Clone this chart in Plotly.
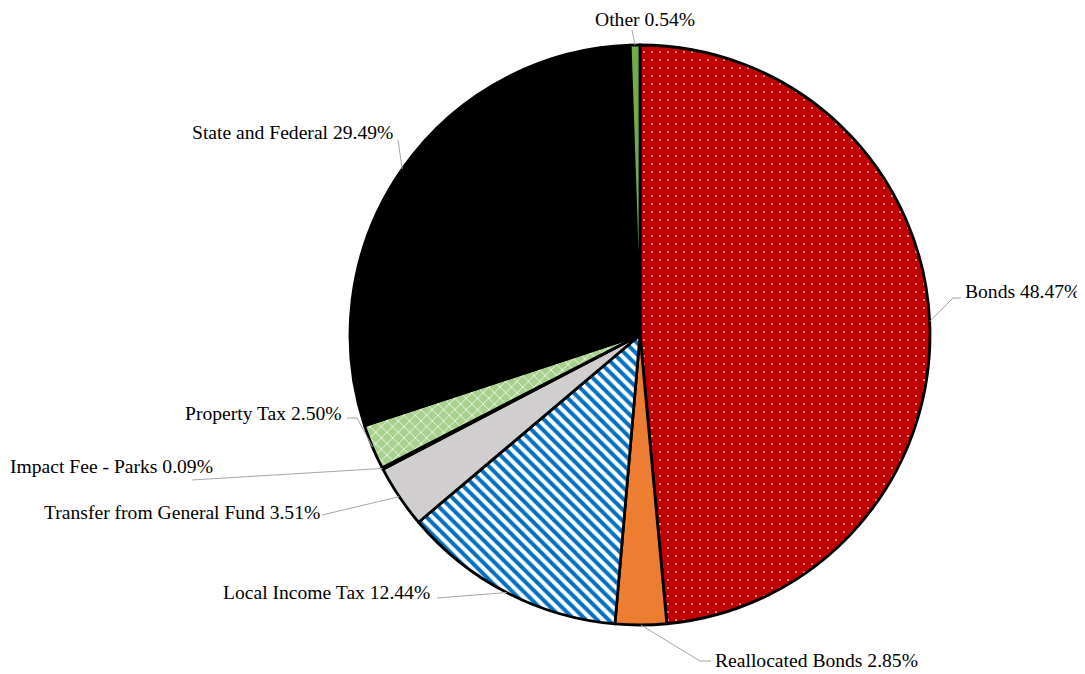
import math
import plotly.graph_objects as go

# ---- data ----
labels = ["Bonds", "Reallocated Bonds", "Local Income Tax", "Transfer from General Fund",
          "Impact Fee - Parks", "Property Tax", "State and Federal", "Other"]
values = [48.47, 2.85, 12.44, 3.51, 0.09, 2.50, 29.49, 0.54]

# ---- styles ----
bg_colors = ["#C00000", "#ED7D31", "#FFFFFF", "#D0CECE", "#FFC000", "#A9D18E", "#000000", "#70AD47"]
fg_colors = ["#FFFFFF", "#ED7D31", "#0070C0", "#D0CECE", "#FFC000", "#FFFFFF", "#000000", "#70AD47"]
shapes_pat = [".", "", "\\", "", "", "x", "", ""]
pat_sizes = [8, 8, 8, 8, 8, 8, 8, 8]
pat_solid = [0.035, 0.3, 0.5, 0.3, 0.3, 0.18, 0.3, 0.3]

# page body has an 8px margin; work in screenshot pixels and shift
OFF = 8
W, H = 1085 - OFF, 674 - OFF
CX, CY, R = 640, 335, 290

# label layout (screenshot pixels): text position, anchor, leader-line path points (before slice edge)
label_layout = [
    dict(x=963, y=292, xa="left", path=[(961, 298), (953, 298)]),
    dict(x=713, y=660, xa="left", path=[(711, 661), (700, 661)]),
    dict(x=432, y=592, xa="right", path=[(437, 598)]),
    dict(x=322, y=512, xa="right", path=[(322, 515)]),
    dict(x=215, y=466, xa="right", path=[(192, 480)]),
    dict(x=344, y=413, xa="right", path=[(347, 418), (357, 418)]),
    dict(x=395, y=133, xa="right", path=[(398, 140)]),
    dict(x=645, y=19, xa="center", path=[(632, 30)]),
]

def px(x):
    return (x - OFF) / W

def py(y):
    return 1 - (y - OFF) / H

fig = go.Figure()
fig.add_trace(go.Pie(
    labels=labels, values=values, sort=False, direction="clockwise", rotation=0,
    textinfo="none", hoverinfo="label+percent", showlegend=False,
    marker=dict(
        colors=bg_colors,
        line=dict(color="#000000", width=2.8),
        pattern=dict(shape=shapes_pat, fgcolor=fg_colors, bgcolor=bg_colors,
                     size=pat_sizes, solidity=pat_solid, fillmode="replace"),
    ),
    domain=dict(x=[px(CX - R), px(CX + R)], y=[py(CY + R), py(CY - R)]),
))

total = sum(values)
cum = 0.0
annotations = []
shapes = []
for lab, val, lay in zip(labels, values, label_layout):
    mid = (cum + val / 2) / total * 2 * math.pi
    cum += val
    ex = CX + R * math.sin(mid)
    ey = CY - R * math.cos(mid)
    pts = lay["path"] + [(ex, ey)]
    path = "M " + " L ".join(f"{px(a):.5f},{py(b):.5f}" for a, b in pts)
    shapes.append(dict(type="path", xref="paper", yref="paper", path=path,
                       line=dict(color="#A6A6A6", width=1)))
    annotations.append(dict(
        x=px(lay["x"]), y=py(lay["y"]), xref="paper", yref="paper",
        text=f"{lab} {val:.2f}%", showarrow=False, xanchor=lay["xa"], yanchor="middle",
        font=dict(family="Liberation Serif", size=19.6, color="#000000"),
    ))

fig.update_layout(
    width=W, height=H,
    margin=dict(l=0, r=0, t=0, b=0, pad=0),
    paper_bgcolor="#FFFFFF", plot_bgcolor="#FFFFFF",
    annotations=annotations, shapes=shapes,
)

fig.write_html("out.html")
